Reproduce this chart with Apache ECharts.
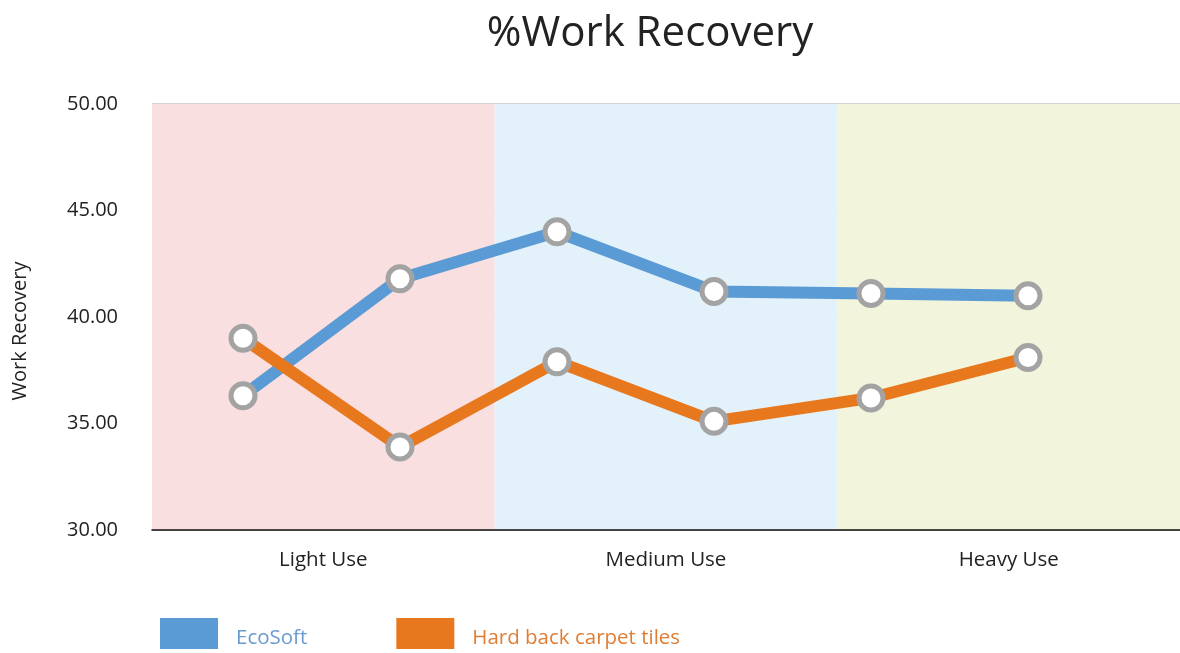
<!DOCTYPE html>
<html><head><meta charset="utf-8">
<script src="https://cdn.jsdelivr.net/npm/echarts@6/dist/echarts.min.js"></script>
<style>html,body{margin:0;padding:0;background:#fff}#c{width:1180px;height:653px}</style>
</head><body><div id="c"></div>
<script>
const bandCategories = ['Light Use', 'Medium Use', 'Heavy Use'];
const pointIndex = ['1', '2', '3', '4', '5', '6'];
const ecoSoft = [36.3, 41.8, 44.0, 41.2, 41.1, 41.0];
const hardBack = [39.0, 33.9, 37.9, 35.1, 36.2, 38.1];
const yTicks = [30, 35, 40, 45, 50];

const FONT = 'Open Sans';
const chart = echarts.init(document.getElementById('c'));
chart.setOption({
  backgroundColor: '#fff',
  animation: false,
  title: {
    text: '%Work Recovery', left: 645, top: 8, textAlign: 'center',
    textStyle: { fontFamily: FONT, fontSize: 42, fontWeight: 'normal', color: '#222' }
  },
  legend: {
    left: 160, top: 618, padding: 0, itemWidth: 58, itemHeight: 31, itemGap: 89, icon: 'rect',
    formatter: name => '{t|' + name + '}',
    textStyle: { fontFamily: FONT, fontSize: 20.5, padding: [0, 0, 0, 13],
      rich: { t: { fontFamily: FONT, fontSize: 20.5, padding: [10, 0, 0, 0] } } },
    data: [
      { name: 'EcoSoft', itemStyle: { color: '#5b9bd5', borderWidth: 0 }, textStyle: { color: '#6a9ad0' } },
      { name: 'Hard back carpet tiles', itemStyle: { color: '#e8781e', borderWidth: 0 }, textStyle: { color: '#df7d35' } }
    ]
  },
  grid: [
    { left: 152, right: 0, top: 104, bottom: 123 },
    { left: 243, right: 152, top: 104, bottom: 123 }
  ],
  xAxis: [
    {
      gridIndex: 0, type: 'category', data: bandCategories, boundaryGap: true,
      axisLine: { show: true, lineStyle: { color: '#111', width: 1.5 } },
      axisTick: { show: false },
      axisLabel: { margin: 20, fontFamily: FONT, fontSize: 20.5, color: '#222' },
      splitArea: { show: true, areaStyle: { color: ['#fadfe0', '#e3f2fa', '#f2f4dc'] } }
    },
    {
      gridIndex: 1, type: 'category', data: pointIndex, boundaryGap: false, show: false
    }
  ],
  yAxis: [
    {
      gridIndex: 0, type: 'value', min: yTicks[0], max: yTicks[yTicks.length - 1], interval: 5,
      name: 'Work Recovery', nameLocation: 'middle', nameGap: 122, nameRotate: 90,
      nameTextStyle: { fontFamily: FONT, fontSize: 20, color: '#222', padding: [0, 28, 0, 0] },
      axisLine: { show: false }, axisTick: { show: false },
      axisLabel: { margin: 34, fontFamily: FONT, fontSize: 20, color: '#222',
        formatter: v => v.toFixed(2) },
      splitLine: { show: true, lineStyle: { color: '#c6c6c6', width: 1.5 } }
    },
    {
      gridIndex: 1, type: 'value', min: yTicks[0], max: yTicks[yTicks.length - 1], show: false
    }
  ],
  series: [
    {
      name: 'EcoSoft', type: 'line', xAxisIndex: 1, yAxisIndex: 1, data: ecoSoft,
      lineStyle: { color: '#5b9bd5', width: 12 },
      symbol: 'circle', symbolSize: 24,
      itemStyle: { color: '#fff', borderColor: '#a3a3a3', borderWidth: 5 },
      z: 3
    },
    {
      name: 'Hard back carpet tiles', type: 'line', xAxisIndex: 1, yAxisIndex: 1, data: hardBack,
      lineStyle: { color: '#e8781e', width: 12 },
      symbol: 'circle', symbolSize: 24,
      itemStyle: { color: '#fff', borderColor: '#a3a3a3', borderWidth: 5 },
      z: 4
    }
  ]
});
</script></body></html>
